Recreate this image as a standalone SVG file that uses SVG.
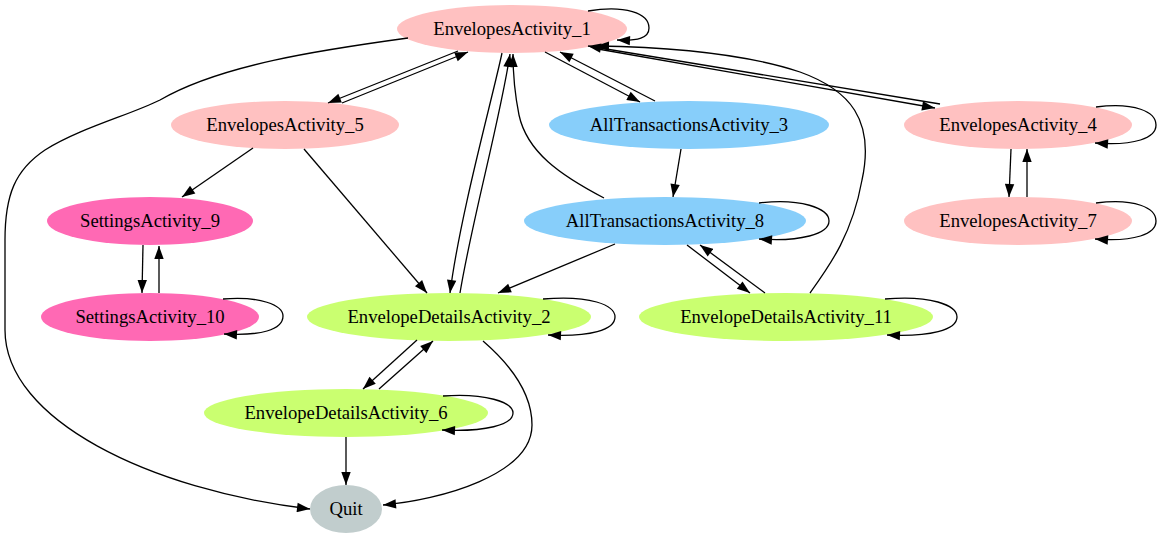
<svg xmlns="http://www.w3.org/2000/svg" width="1161" height="539" viewBox="0 0 1161 539">
<style>
.n text{font-family:"Liberation Serif","Times New Roman",serif;font-size:18.67px;text-anchor:middle;fill:#000}
.ea{fill:#ffc1c1}.at{fill:#87cefa}.sa{fill:#ff69b4}.ed{fill:#caff70}.q{fill:#c1cdcd}
.edges path{fill:none;stroke:#000;stroke-width:1.3;marker-end:url(#ah)}
</style>
<defs>
<marker id="ah" markerUnits="userSpaceOnUse" markerWidth="14" markerHeight="10" viewBox="0 0 13 10" refX="13" refY="5" orient="auto">
<path d="M0,0.3 L13,5 L0,9.7 z" fill="#000"/>
</marker>
</defs>
<rect width="1161" height="539" fill="#fff"/>
<g id="nodes">
<g id="E1" class="n"><ellipse class="ea" cx="512" cy="29" rx="115" ry="24"/><text x="512" y="35">EnvelopesActivity_1</text></g>
<g id="E5" class="n"><ellipse class="ea" cx="285" cy="125" rx="114" ry="24"/><text x="285" y="131">EnvelopesActivity_5</text></g>
<g id="AT3" class="n"><ellipse class="at" cx="689" cy="125" rx="140" ry="24"/><text x="689" y="131">AllTransactionsActivity_3</text></g>
<g id="E4" class="n"><ellipse class="ea" cx="1018" cy="125" rx="114" ry="24"/><text x="1018" y="131">EnvelopesActivity_4</text></g>
<g id="S9" class="n"><ellipse class="sa" cx="150" cy="221" rx="103" ry="24"/><text x="150" y="227">SettingsActivity_9</text></g>
<g id="AT8" class="n"><ellipse class="at" cx="665" cy="221" rx="141" ry="24"/><text x="665" y="227">AllTransactionsActivity_8</text></g>
<g id="E7" class="n"><ellipse class="ea" cx="1018" cy="221" rx="114" ry="24"/><text x="1018" y="227">EnvelopesActivity_7</text></g>
<g id="S10" class="n"><ellipse class="sa" cx="150" cy="317" rx="109" ry="24"/><text x="150" y="323">SettingsActivity_10</text></g>
<g id="ED2" class="n"><ellipse class="ed" cx="449" cy="317" rx="142" ry="24"/><text x="449" y="323">EnvelopeDetailsActivity_2</text></g>
<g id="ED11" class="n"><ellipse class="ed" cx="786" cy="317" rx="147" ry="24"/><text x="786" y="323">EnvelopeDetailsActivity_11</text></g>
<g id="ED6" class="n"><ellipse class="ed" cx="346" cy="413" rx="142" ry="24"/><text x="346" y="419">EnvelopeDetailsActivity_6</text></g>
<g id="Quit" class="n"><ellipse class="q" cx="346" cy="509" rx="36" ry="24"/><text x="346" y="515">Quit</text></g>
</g>
<g id="edges" class="edges">
<path d="M588,11 C625,5 649,13 649,28 C649,38 638,41 617,40"/>
<path d="M408,38 C320,50 220,65 160,100 C130,115 80,128 45,150 C15,170 5,195 5,240 L5,330 C5,420 150,490 310,509"/>
<path d="M458,51 L328,103"/>
<path d="M342,103 L468,52"/>
<path d="M502,53 C492,100 460,215 450,293"/>
<path d="M460,293 C472,220 500,120 510,54"/>
<path d="M604,198 C560,175 527,152 519,115 C515,95 513,75 513,54"/>
<path d="M545,52 L640,102"/>
<path d="M655,101 L560,52"/>
<path d="M598,49 L935,108"/>
<path d="M940,104 L588,46"/>
<path d="M810,293 C830,265 852,235 862,180 C875,120 850,90 800,72 C740,52 660,47 596,46"/>
<path d="M1096,107 C1135,102 1156,112 1156,125 C1156,138 1135,146 1095,143"/>
<path d="M1011,149 L1009,197"/>
<path d="M1027,197 L1027,149"/>
<path d="M1096,203 C1135,198 1156,208 1156,221 C1156,234 1135,242 1095,239"/>
<path d="M253,148 L182,197"/>
<path d="M304,149 L427,293"/>
<path d="M681,149 L673,197"/>
<path d="M143,245 L142,293"/>
<path d="M159,293 L159,246"/>
<path d="M223,299 C260,296 283,305 283,316 C283,330 260,336 224,334"/>
<path d="M759,203 C800,198 829,208 829,221 C829,234 800,242 759,239"/>
<path d="M615,244 L498,293"/>
<path d="M687,245 L750,293"/>
<path d="M765,293 L700,245"/>
<path d="M543,299 C590,295 615,305 615,317 C615,330 590,337 548,335"/>
<path d="M885,299 C930,295 957,305 957,317 C957,330 930,337 887,335"/>
<path d="M417,340 L363,389"/>
<path d="M379,389 L433,341"/>
<path d="M443,396 C485,393 513,402 513,413 C513,425 485,432 442,430"/>
<path d="M346,437 L346,485"/>
<path d="M483,341 C505,360 532,390 532,425 C532,475 440,500 383,505"/>
</g>
</svg>
